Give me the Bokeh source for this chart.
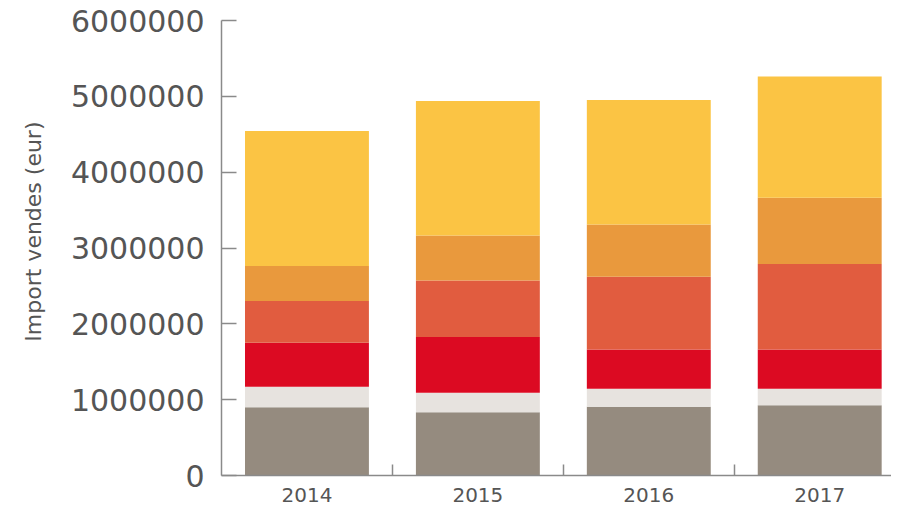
from bokeh.plotting import figure
from bokeh.models import Range1d, FixedTicker, BasicTickFormatter, ColumnDataSource, Title
from bokeh.embed import file_html
from bokeh.resources import INLINE

years = ["2014", "2015", "2016", "2017"]
series = ["s1", "s2", "s3", "s4", "s5", "s6"]
s1 = [900000, 835000, 906000, 928000]      # grey
s2 = [270000, 256000, 237000, 215000]      # light grey
s3 = [580000, 734000, 519000, 519000]      # red
s4 = [550000, 748000, 959000, 1126000]     # red-orange
s5 = [461000, 593000, 690000, 875000]      # orange
s6 = [1781000, 1772000, 1640000, 1597000]  # yellow
colors = ["#958b7f", "#e7e3df", "#dc0a22", "#e15c3f", "#e9993d", "#fbc444"]
y_ticks = [0, 1000000, 2000000, 3000000, 4000000, 5000000, 6000000]
y_label = "Import vendes (eur)"

xs = [i + 0.5 for i in range(len(years))]
src = ColumnDataSource(dict(x=xs, s1=s1, s2=s2, s3=s3, s4=s4, s5=s5, s6=s6))

p = figure(width=891, height=511, output_backend="svg", toolbar_location=None,
           x_range=Range1d(0, 3.92), y_range=Range1d(0, 6000000),
           min_border_left=220, min_border_right=0, min_border_top=20, min_border_bottom=36)
p.outline_line_color = None
p.xgrid.visible = False
p.ygrid.visible = False
p.background_fill_color = "white"

p.vbar_stack(series, x="x", width=0.725, color=colors, line_color=None, source=src)

font = "DejaVu Sans"
tc = "#555555"
ax = p.yaxis[0]
ax.ticker = FixedTicker(ticks=y_ticks)
ax.formatter = BasicTickFormatter(use_scientific=False)
ax.major_tick_in = 15
ax.major_tick_out = 0
ax.minor_tick_in = 0
ax.minor_tick_out = 0
ax.major_tick_line_color = "#8a8a8a"
ax.major_tick_line_width = 1.5
ax.axis_line_color = "#8a8a8a"
ax.axis_line_width = 1.5
ax.major_label_text_font = font
ax.major_label_text_font_size = "30px"
ax.major_label_text_color = tc
ax.major_label_standoff = 17

t = Title(text=y_label, align="right", vertical_align="top", offset=101, standoff=40,
          text_font=font, text_font_size="22px", text_font_style="normal",
          text_color=tc)
p.add_layout(t, "left")

bx = p.xaxis[0]
bx.ticker = FixedTicker(ticks=xs, minor_ticks=[i for i in range(1, len(years))])
bx.major_label_overrides = {x: y for x, y in zip(xs, years)}
bx.major_tick_in = 0
bx.major_tick_out = 0
bx.minor_tick_in = 11
bx.minor_tick_out = 0
bx.minor_tick_line_color = "#8a8a8a"
bx.minor_tick_line_width = 1.5
bx.axis_line_color = "#8a8a8a"
bx.axis_line_width = 1.5
bx.major_label_text_font = font
bx.major_label_text_font_size = "20px"
bx.major_label_text_color = tc
bx.major_label_standoff = 12

open("out.html", "w").write(file_html(p, INLINE))
